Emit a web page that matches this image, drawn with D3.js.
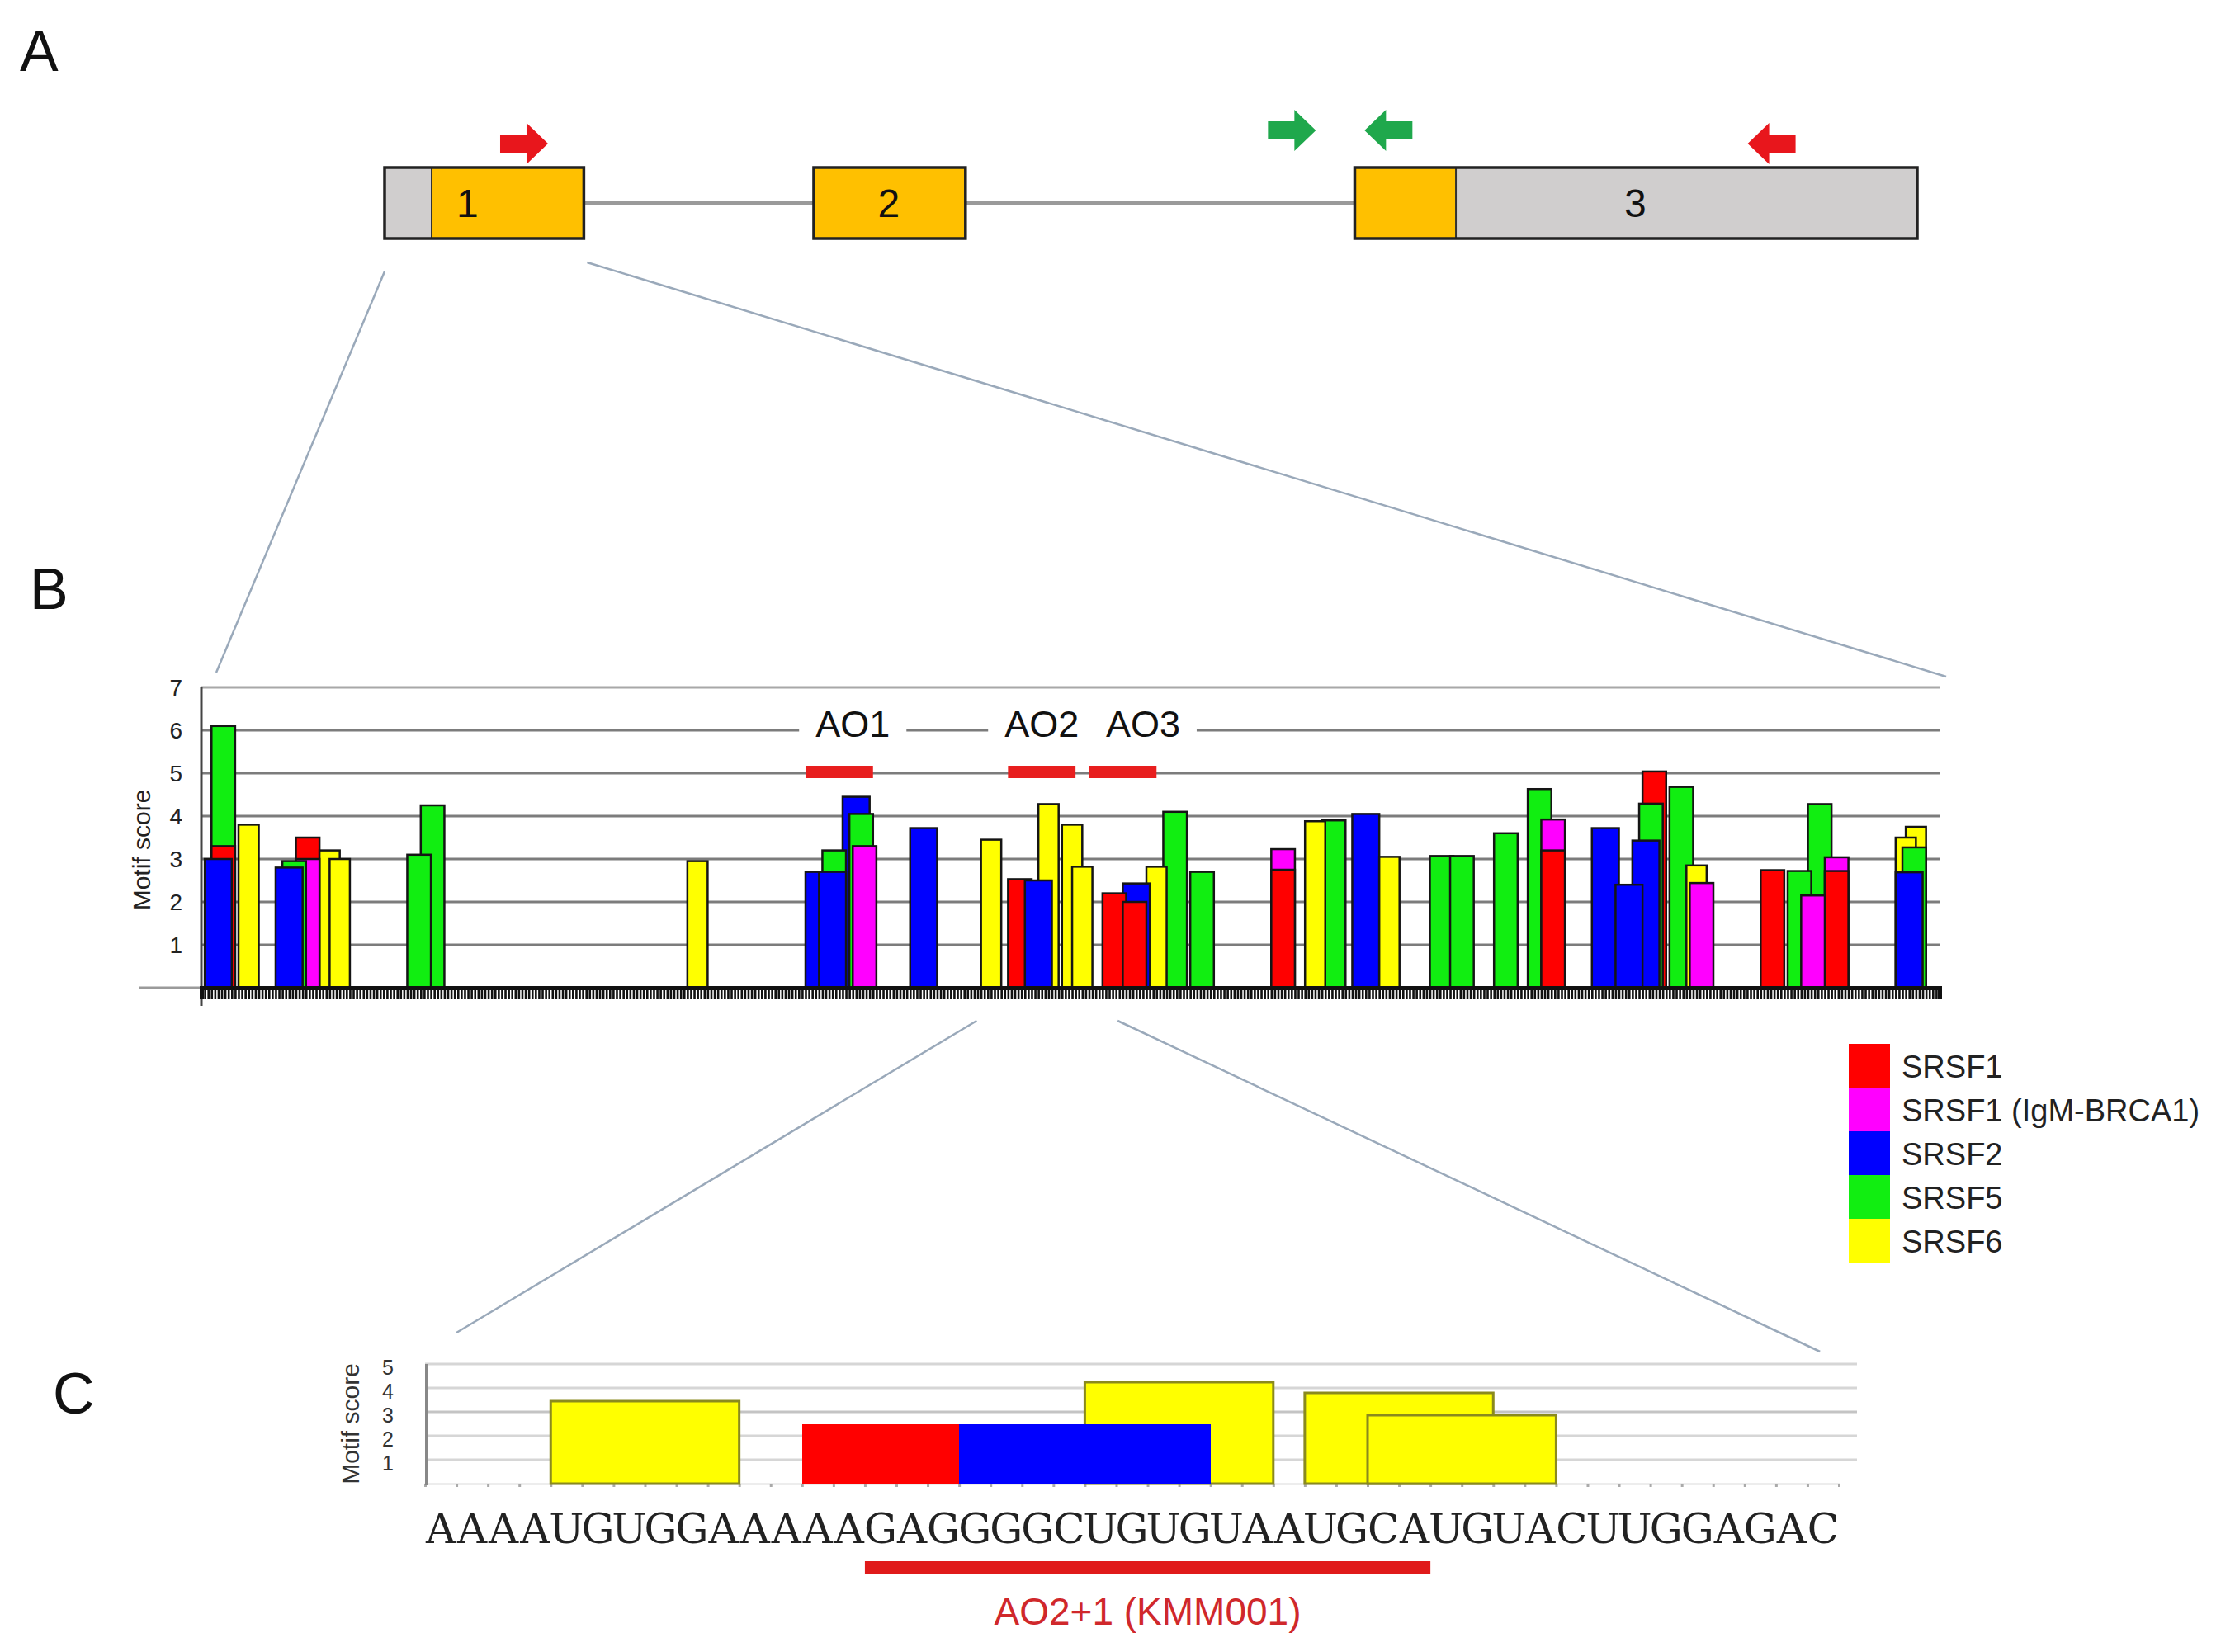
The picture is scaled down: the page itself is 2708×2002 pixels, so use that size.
<!DOCTYPE html>
<html><head><meta charset="utf-8">
<script src="https://cdn.jsdelivr.net/npm/d3@7"></script>
<style>body{margin:0;background:#fff}svg{display:block}</style>
</head><body>
<svg id="fig" width="2708" height="2002"></svg>
<script>
// ---------- data ----------
const factors = ["SRSF1", "SRSF1 (IgM-BRCA1)", "SRSF2", "SRSF5", "SRSF6"];
const factorColors = ["#ff0000", "#ff00ff", "#0000ff", "#11ee11", "#ffff00"];
const motifLength = [7, 7, 8, 7, 6];

// Panel A: gene model (schematic units 0..100)
const exonNames = ["1", "2", "3"];
const exonStart = [0, 28.0, 63.3];
const exonEnd = [13.0, 37.9, 100];
const cdsStart = [3.07, 28.0, 63.3];
const cdsEnd = [13.0, 37.9, 69.9];
const exonLabelPos = [5.4, 32.9, 81.6];
const primerPos = [9.1, 59.2, 65.5, 90.5];
const primerDir = [1, 1, -1, -1];
const primerSet = ["outer", "inner", "inner", "outer"];

// Panel B: ESE motif hits along exon 1 (nt position, factor index, motif score)
const hitStart = [1,3,3,11,22,24,28,28,35,38,61,65,144,179,183,184,190,192,193,210,
  231,239,244,248,255,258,267,273,273,280,285,293,317,317,327,332,341,349,364,370,
  383,393,397,397,412,419,424,426,427,435,440,441,462,470,476,474,481,481,502,504,502,505];
const hitFactor = [2,0,3,4,2,3,0,1,4,4,3,3,4,2,2,3,2,3,1,2,
  4,0,2,4,4,4,0,0,2,4,3,3,0,1,4,3,2,4,3,3,
  3,3,0,1,2,2,2,3,0,3,4,1,0,3,3,1,0,1,2,3,4,4];
const hitScore = [3.0,3.3,6.1,3.8,2.8,2.95,3.5,3.0,3.2,3.0,3.1,4.25,2.95,2.7,2.7,3.2,4.45,4.05,3.3,3.72,
  3.45,2.53,2.5,4.28,3.8,2.82,2.2,2.0,2.43,2.82,4.1,2.7,2.75,3.23,3.88,3.9,4.05,3.05,3.07,3.07,
  3.6,4.63,3.2,3.92,3.72,2.4,3.43,4.29,5.04,4.68,2.85,2.44,2.74,2.72,4.28,2.15,2.72,3.04,2.69,3.27,3.5,3.75];
const exonLength = 515;
const bTicks = [1, 2, 3, 4, 5, 6, 7];
const aoNames = ["AO1", "AO2", "AO3"];
const aoStart = [179, 239, 263];
const aoEnd = [199, 259, 283];
const zoomWindow = [229, 271];

// Panel C: sequence detail
const sequence = "AAAAUGUGGAAAAAGAGGGGCUGUGUAAUGCAUGUACUUGGAGAC";
const cStart = [4, 12, 17, 21, 28, 30];
const cFactor = [4, 0, 2, 4, 4, 4];
const cScore = [3.45, 2.5, 2.5, 4.24, 3.79, 2.86];
const cTicks = [1, 2, 3, 4, 5];
const aoPlusName = "AO2+1 (KMM001)";
const aoPlusRange = [14, 32];

// ---------- drawing ----------
const svg = d3.select("#fig");
const SANS = "'Liberation Sans', Arial, sans-serif";

[["A", 24, 86], ["B", 36, 738], ["C", 64, 1713]].forEach(([t, x, y]) =>
  svg.append("text").attr("x", x).attr("y", y).text(t)
    .attr("font-family", SANS).attr("font-size", 70).attr("fill", "#111"));

// ===== Panel A =====
const xA = d3.scaleLinear().domain([0, 100]).range([466, 2323]);
const boxTop = 203, boxH = 86, midY = boxTop + boxH / 2;
const gA = svg.append("g");
for (let i = 0; i < exonNames.length - 1; i++) {
  gA.append("line").attr("x1", xA(exonEnd[i])).attr("x2", xA(exonStart[i + 1]))
    .attr("y1", midY).attr("y2", midY).attr("stroke", "#9a9a9a").attr("stroke-width", 4);
}
exonNames.forEach((n, i) => {
  gA.append("rect").attr("x", xA(exonStart[i])).attr("y", boxTop)
    .attr("width", xA(exonEnd[i]) - xA(exonStart[i])).attr("height", boxH)
    .attr("fill", "#d0cece");
  gA.append("rect").attr("x", xA(cdsStart[i])).attr("y", boxTop)
    .attr("width", xA(cdsEnd[i]) - xA(cdsStart[i])).attr("height", boxH)
    .attr("fill", "#ffc000").attr("stroke", "#333").attr("stroke-width", 2);
  gA.append("rect").attr("x", xA(exonStart[i])).attr("y", boxTop)
    .attr("width", xA(exonEnd[i]) - xA(exonStart[i])).attr("height", boxH)
    .attr("fill", "none").attr("stroke", "#222").attr("stroke-width", 3.5);
  gA.append("text").attr("x", xA(exonLabelPos[i])).attr("y", midY).text(n)
    .attr("text-anchor", "middle").attr("dominant-baseline", "central")
    .attr("font-family", SANS).attr("font-size", 48).attr("fill", "#111");
});
const primerColor = { outer: "#e8161c", inner: "#1fa84c" };
primerPos.forEach((p, i) => {
  const cx = xA(p), cy = primerSet[i] === "outer" ? 174 : 158, d = primerDir[i];
  const L = 58, headL = 26, hh = 25, sh = 11;
  const x0 = cx - d * L / 2;
  const pts = [[x0, cy - sh], [x0 + d * (L - headL), cy - sh], [x0 + d * (L - headL), cy - hh],
    [x0 + d * L, cy], [x0 + d * (L - headL), cy + hh], [x0 + d * (L - headL), cy + sh], [x0, cy + sh]];
  gA.append("path").attr("d", "M" + pts.map(q => q.join(",")).join("L") + "Z")
    .attr("fill", primerColor[primerSet[i]]);
});

// ===== Panel B =====
const xB = d3.scaleLinear().domain([0, exonLength]).range([244, 2350]);
const yB = d3.scaleLinear().domain([0, 7]).range([1197, 833]);
const gB = svg.append("g");

const zoomLineColor = "#9aa9ba";
gB.append("line").attr("x1", xA(exonStart[0])).attr("y1", boxTop + boxH + 40)
  .attr("x2", xB(0) + 18).attr("y2", yB(7) - 18).attr("stroke", zoomLineColor).attr("stroke-width", 2.5);
gB.append("line").attr("x1", xA(exonEnd[0]) + 4).attr("y1", boxTop + boxH + 29)
  .attr("x2", xB(exonLength) + 8).attr("y2", yB(7) - 13).attr("stroke", zoomLineColor).attr("stroke-width", 2.5);

bTicks.forEach(t => gB.append("line").attr("x1", xB(0)).attr("x2", xB(exonLength))
  .attr("y1", yB(t)).attr("y2", yB(t)).attr("stroke", t === 7 ? "#a8a8a8" : "#7c7c7c").attr("stroke-width", 3));
gB.append("line").attr("x1", 168).attr("x2", xB(0)).attr("y1", yB(0)).attr("y2", yB(0))
  .attr("stroke", "#9a9a9a").attr("stroke-width", 3);

bTicks.forEach(t => gB.append("text").attr("x", 221).attr("y", yB(t)).text(t)
  .attr("text-anchor", "end").attr("dominant-baseline", "central")
  .attr("font-family", SANS).attr("font-size", 28).attr("fill", "#222"));
gB.append("line").attr("x1", xB(0)).attr("x2", xB(0)).attr("y1", yB(7)).attr("y2", yB(0) + 22)
  .attr("stroke", "#444").attr("stroke-width", 3);
gB.append("text").attr("transform", `translate(182,${(yB(0) + yB(7)) / 2 + 15}) rotate(-90)`)
  .text("Motif score").attr("text-anchor", "middle")
  .attr("font-family", SANS).attr("font-size", 30).attr("fill", "#222");

const aoLabelShift = [4, 0, 6];
aoNames.forEach((n, i) => {
  const cx = xB((aoStart[i] + aoEnd[i]) / 2 + aoLabelShift[i]);
  const t = gB.append("text").attr("x", cx).attr("y", yB(6) - 8).text(n)
    .attr("text-anchor", "middle").attr("dominant-baseline", "central")
    .attr("font-family", SANS).attr("font-size", 45).attr("fill", "#111");
  const bb = t.node().getBBox();
  gB.insert("rect", () => t.node()).attr("x", bb.x - 20).attr("y", bb.y).attr("width", bb.width + 40)
    .attr("height", bb.height + 8).attr("fill", "#fff");
  gB.append("rect").attr("x", xB(aoStart[i])).attr("y", yB(5) - 9)
    .attr("width", xB(aoEnd[i]) - xB(aoStart[i])).attr("height", 15).attr("fill", "#e81e1e");
});

const hits = hitStart.map((s, i) => ({ s, f: hitFactor[i], v: hitScore[i] }))
  .sort((a, b) => b.v - a.v);
gB.append("g").selectAll("rect").data(hits).join("rect")
  .attr("x", d => xB(d.s)).attr("width", d => xB(d.s + motifLength[d.f]) - xB(d.s))
  .attr("y", d => yB(d.v)).attr("height", d => yB(0) - yB(d.v))
  .attr("fill", d => factorColors[d.f]).attr("stroke", "#151515").attr("stroke-width", 2.5);

const axB = gB.append("g").attr("transform", `translate(0,${yB(0)})`)
  .call(d3.axisBottom(xB).tickValues(d3.range(0, exonLength + 1)).tickSize(14).tickFormat(""));
axB.selectAll("line").attr("stroke", "#111").attr("stroke-width", 2.6);
axB.select(".domain").attr("stroke", "#111").attr("stroke-width", 5);

// legend
const gL = svg.append("g");
factors.forEach((f, i) => {
  gL.append("rect").attr("x", 2240).attr("y", 1265 + i * 53).attr("width", 50).attr("height", 53)
    .attr("fill", factorColors[i]);
  gL.append("text").attr("x", 2304).attr("y", 1265 + i * 53 + 28).text(f)
    .attr("dominant-baseline", "central").attr("font-family", SANS).attr("font-size", 38).attr("fill", "#222");
});

// ===== Panel C =====
const xC = d3.scaleLinear().domain([0, sequence.length]).range([515, 2228]);
const yC = d3.scaleLinear().domain([0, 5]).range([1798, 1653]);
const gC = svg.append("g");

gC.append("line").attr("x1", xB(zoomWindow[0]) + 3).attr("y1", yB(0) + 40)
  .attr("x2", xC(1)).attr("y2", yC(5) - 38).attr("stroke", zoomLineColor).attr("stroke-width", 2.5);
gC.append("line").attr("x1", xB(zoomWindow[1]) + 2).attr("y1", yB(0) + 40)
  .attr("x2", xC(sequence.length - 0.6)).attr("y2", yC(5) - 15).attr("stroke", zoomLineColor).attr("stroke-width", 2.5);

const cEnd = xC(sequence.length) + 22;
cTicks.forEach(t => gC.append("line").attr("x1", xC(0)).attr("x2", cEnd)
  .attr("y1", yC(t)).attr("y2", yC(t)).attr("stroke", t === 3 ? "#c4c4c4" : "#d6d6d6").attr("stroke-width", 3));
const axC = gC.append("g").attr("transform", `translate(0,${yC(0)})`)
  .call(d3.axisBottom(xC).tickValues(d3.range(0, sequence.length + 1)).tickSize(4).tickFormat(""));
axC.selectAll("line").attr("stroke", "#aaa").attr("stroke-width", 3);
axC.select(".domain").attr("stroke", "#dcdcdc").attr("stroke-width", 2);
gC.append("line").attr("x1", xC(0) + 2).attr("x2", xC(0) + 2).attr("y1", yC(5)).attr("y2", yC(0) + 2)
  .attr("stroke", "#888").attr("stroke-width", 4);
cTicks.forEach(t => gC.append("text").attr("x", 470).attr("y", yC(t) + 4).text(t)
  .attr("text-anchor", "middle").attr("dominant-baseline", "central")
  .attr("font-family", SANS).attr("font-size", 25).attr("fill", "#333"));
gC.append("text").attr("transform", `translate(424,${(yC(0) + yC(5)) / 2}) rotate(-90)`)
  .text("Motif score").attr("text-anchor", "middle").attr("dominant-baseline", "central")
  .attr("font-family", SANS).attr("font-size", 30).attr("fill", "#333");

const cHits = cStart.map((s, i) => ({ s, f: cFactor[i], v: cScore[i] })).sort((a, b) => b.v - a.v);
gC.append("g").selectAll("rect").data(cHits).join("rect")
  .attr("x", d => xC(d.s)).attr("width", d => xC(d.s + motifLength[d.f]) - xC(d.s))
  .attr("y", d => Math.round(yC(d.v))).attr("height", d => Math.round(yC(0)) - Math.round(yC(d.v)))
  .attr("fill", d => factorColors[d.f])
  .attr("shape-rendering", d => d.f === 4 ? null : "crispEdges")
  .attr("stroke", d => d.f === 4 ? "#8a8a1e" : "none").attr("stroke-width", 3);

gC.append("g").selectAll("text").data(sequence.split("")).join("text")
  .attr("x", (d, i) => xC(i + 0.5)).attr("y", 1870).text(d => d)
  .attr("text-anchor", "middle").attr("font-family", "'DejaVu Serif', serif")
  .attr("font-size", 50).attr("fill", "#222");

gC.append("rect").attr("x", xC(aoPlusRange[0])).attr("y", 1892)
  .attr("width", xC(aoPlusRange[1]) - xC(aoPlusRange[0])).attr("height", 16).attr("fill", "#e01a1a");
gC.append("text").attr("x", xC((aoPlusRange[0] + aoPlusRange[1]) / 2)).attr("y", 1969)
  .text(aoPlusName).attr("text-anchor", "middle")
  .attr("font-family", SANS).attr("font-size", 46).attr("fill", "#d0282b");
</script>
</body></html>
